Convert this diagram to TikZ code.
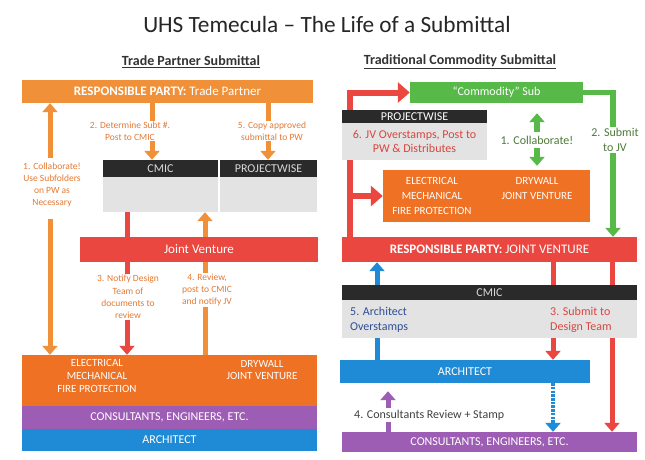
\documentclass[tikz,border=0pt]{standalone}
\usepackage{fontspec}
\setmainfont{Carlito}
\usetikzlibrary{arrows.meta,calc}
\definecolor{orA}{HTML}{F0913A}
\definecolor{orB}{HTML}{EE7124}
\definecolor{redJ}{HTML}{E9473F}
\definecolor{grnS}{HTML}{57B947}
\definecolor{bluA}{HTML}{1F8BD6}
\definecolor{purC}{HTML}{9E5DB5}
\definecolor{darkH}{HTML}{2A2A2A}
\definecolor{grayB}{HTML}{E3E3E3}
\definecolor{txtOr}{HTML}{E57A35}
\definecolor{txtRed}{HTML}{D9463E}
\definecolor{txtBlue}{HTML}{2F4E96}
\definecolor{txtGrn}{HTML}{4E7A3A}
\begin{document}
\begin{tikzpicture}[x=1pt,y=-1pt,
  sz/.style 2 args={minimum width=#1, minimum height=#2},
  bar/.style={inner sep=0pt, text=white, align=center, font=\fontsize{12}{13}\selectfont},
  bartxt/.style={inner sep=0pt, text=white, align=center, font=\fontsize{11}{15}\selectfont},
  hdr/.style={inner sep=0pt, fill=darkH, text=gray!30, font=\fontsize{12}{13}\selectfont},
  body/.style={inner sep=0pt, fill=grayB},
  lbl/.style={inner sep=1pt, align=center, text=txtOr, font=\fontsize{9.5}{12.3}\selectfont},
  rlbl/.style={inner sep=2pt, align=center, font=\fontsize{12}{14.5}\selectfont},
  tipA/.style={-{Triangle[length=9pt,width=15pt]}},
  fat/.style={line width=5pt, tipA},
  oarrow/.style={fat, draw=orA},
  rarrow/.style={fat, draw=redJ},
  rarrowL/.style={line width=6pt, draw=redJ, miter limit=10, -{Triangle[length=12pt,width=20pt]}},
  garrow/.style={line width=5.5pt, draw=grnS, tipA},
  barrow/.style={fat, draw=bluA},
  parrow/.style={fat, draw=purC},
  bchain/.style={line width=4.5pt, draw=bluA, dash pattern=on 2.5pt off 1.2pt, tipA},
]
\useasboundingbox (0,0) rectangle (645,459);
\fill[white] (0,0) rectangle (645,459);

% titles
\node[font=\fontsize{23.3}{25}\selectfont, text=black!85] (title) at (327,24) {UHS Temecula – The Life of a Submittal};
\node[font=\bfseries\fontsize{14}{15}\selectfont, text=black!80] (hl) at (191,62) {\underline{Trade Partner Submittal}};
\node[font=\bfseries\fontsize{14}{15}\selectfont, text=black!80] (hr) at (460,62) {\underline{Traditional Commodity Submittal}};

% x positions for connectors
\coordinate (x1) at (50,0);
\coordinate (x2) at (152,0);
\coordinate (x5) at (268,0);
\coordinate (x3) at (127,0);
\coordinate (x4) at (205,0);
\coordinate (xr) at (350,0);
\coordinate (xg) at (613,0);
\coordinate (xc) at (537,0);
\coordinate (xb) at (377,0);
\coordinate (xs) at (553,0);
\coordinate (xt) at (612,0);
\coordinate (xp) at (388,0);

% ---------------- LEFT ----------------
\node[bar, fill=orA, sz={291}{23}, font=\fontsize{13}{14}\selectfont] (tp) at (167.5,91.5) {\textbf{RESPONSIBLE PARTY:} Trade Partner};
\node[hdr, sz={115}{17}] (cmich) at (160.5,168.5) {CMIC};
\node[body, sz={115}{35}] (cmicb) at (160.5,194.5) {};
\node[hdr, sz={97}{17}] (pwh) at (268.5,168.5) {PROJECTWISE};
\node[body, sz={97}{35}] (pwb) at (268.5,194.5) {};
\node[bar, fill=orB, sz={295}{51}] (trades) at (169.5,380.5) {};
\node[bar, fill=purC, sz={295}{23}] (cons) at (169.5,417.5) {CONSULTANTS, ENGINEERS, ETC.};
\node[bar, fill=bluA, sz={295}{22}] (arch) at (169.5,440) {ARCHITECT};
\node[bartxt, font=\fontsize{11}{12.8}\selectfont] (tr1) at (97,376) {ELECTRICAL\\MECHANICAL\\FIRE PROTECTION};
\node[bartxt, font=\fontsize{11}{12.8}\selectfont] (tr2) at (262,370) {DRYWALL\\JOINT VENTURE};

\node[lbl] (l1) at (52,185) {1. Collaborate!\\Use Subfolders\\on PW as\\Necessary};
\draw[oarrow] ([yshift=3pt]l1.north -| x1) -- (tp.south -| x1);
\draw[oarrow] ([yshift=-10pt]l1.south -| x1) -- (trades.north -| x1);

\draw[oarrow] (tp.south -| x2) -- (cmich.north -| x2);
\draw[oarrow] (tp.south -| x5) -- (pwh.north -| x5);
\node[lbl, fill=white] (l2) at (130,131) {2. Determine Subt \#.\\Post to CMIC};
\node[lbl, fill=white] (l5) at (272,131) {5. Copy approved\\submittal to PW};

\draw[rarrow] (cmicb.south -| x3) -- (trades.north -| x3);
\draw[oarrow] (trades.north -| x4) -- (cmicb.south -| x4);
\node[bar, fill=redJ, sz={238}{25}, font=\fontsize{13}{14}\selectfont] (jv) at (199,249.5) {Joint Venture};
\node[lbl, fill=white] (l3) at (128,297) {3. Notify Design\\Team of\\documents to\\review};
\node[lbl, fill=white] (l4) at (207,290) {4. Review,\\post to CMIC\\and notify JV};

% ---------------- RIGHT ----------------
\node[bar, fill=grnS, sz={173}{21}] (sub) at (496.5,92.5) {“Commodity” Sub};
\node[bar, fill=orB, sz={207}{52}] (trades2) at (486.5,196) {};
\node[bartxt] (tr3) at (432,196) {ELECTRICAL\\MECHANICAL\\FIRE PROTECTION};
\node[bartxt] (tr4) at (537,188.5) {DRYWALL\\JOINT VENTURE};
\node[bar, fill=redJ, sz={295}{25}, font=\fontsize{13}{14}\selectfont] (jv2) at (489.5,249.5) {\textbf{RESPONSIBLE PARTY:} JOINT VENTURE};
\node[bar, fill=bluA, sz={250}{23}] (arch2) at (465,371.5) {ARCHITECT};
\node[bar, fill=purC, sz={295}{20}] (cons2) at (489.5,442) {CONSULTANTS, ENGINEERS, ETC.};

\draw[rarrowL] (jv2.north -| xr) |- (sub.west);
\draw[rarrowL] (trades2.west -| xr) -- (trades2.west);
\node[hdr, sz={145}{13}, text=white] (pw2h) at (414.5,116.5) {PROJECTWISE};
\node[body, sz={145}{37}, align=center, text=txtRed, font=\fontsize{12}{13.5}\selectfont] (pw2b) at (414.5,141.5) {6. JV Overstamps, Post to\\PW \& Distributes};

\draw[garrow] (sub.east) -| (jv2.north -| xg);
\node[rlbl, fill=white, text=txtGrn] (l2r) at (615,140) {2. Submit\\to JV};
\draw[garrow, {Triangle[length=9pt,width=15pt]}-{Triangle[length=9pt,width=15pt]}] ([yshift=-10pt]sub.south -| xc) -- ([yshift=4pt]trades2.north -| xc);
\node[rlbl, fill=white, inner sep=4pt, text=txtGrn] (l1r) at (537,140) {1. Collaborate!};

\draw[barrow] (arch2.north -| xb) -- (jv2.south -| xb);
\draw[rarrow] (jv2.south -| xs) -- (arch2.north -| xs);
\draw[rarrow] (jv2.south -| xt) -- (cons2.north -| xt);
\node[hdr, sz={295}{15}] (cmic2h) at (489.5,292.5) {CMIC};
\node[body, sz={295}{38}] (cmic2b) at (489.5,319) {};
\node[rlbl, anchor=west, align=left, text=txtBlue] (l5r) at (348,320) {5. Architect\\Overstamps};
\node[rlbl, anchor=west, align=left, text=txtRed] (l3r) at (548,320) {3. Submit to\\Design Team};

\draw[bchain] (arch2.south -| xs) -- (cons2.north -| xs);
\draw[parrow] (cons2.north -| xp) -- ([yshift=-8pt]arch2.south -| xp);
\node[rlbl, fill=white, anchor=west, text=black!75] (l4r) at (352,415) {4. Consultants Review + Stamp};
\end{tikzpicture}
\end{document}
